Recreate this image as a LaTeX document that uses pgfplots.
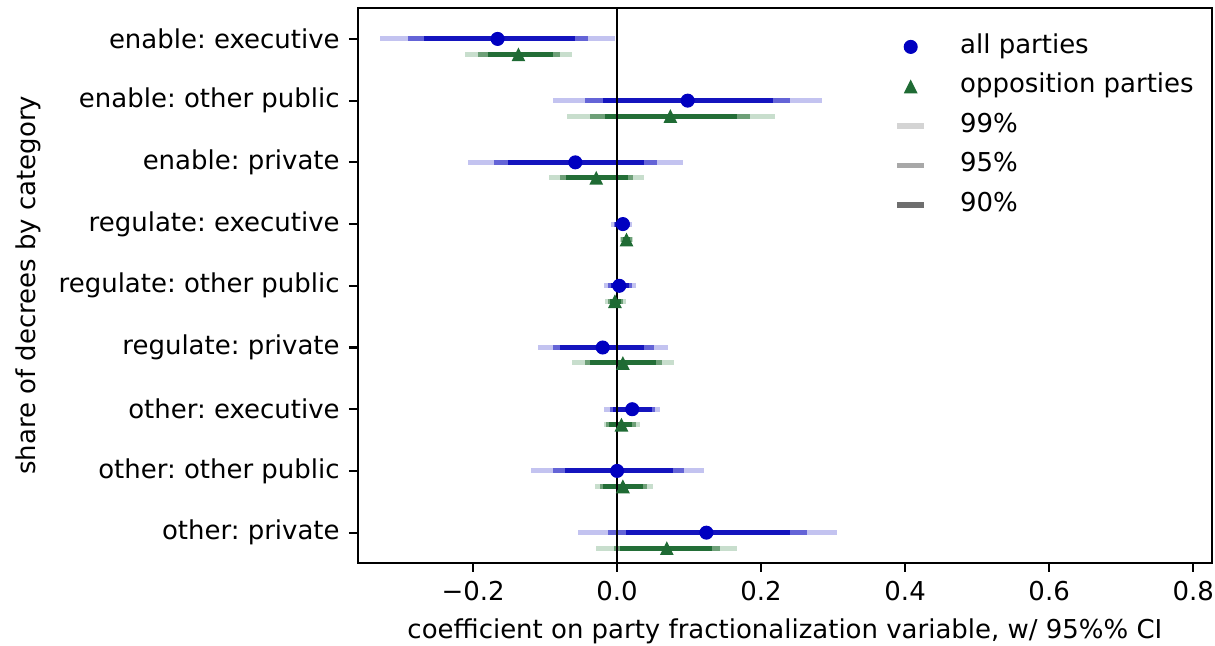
\documentclass[border=0pt]{standalone}
\usepackage{fontspec}
\setmainfont{DejaVu Sans}
\usepackage{pgfplots}
\usepackage{pgfplotstable}
\pgfplotsset{compat=1.18}
\frenchspacing

\definecolor{cblue}{RGB}{0,0,192}
\definecolor{b99}{RGB}{195,195,240}
\definecolor{b95}{RGB}{100,100,215}
\definecolor{b90}{RGB}{20,20,190}
\definecolor{cgreen}{RGB}{31,107,52}
\definecolor{g99}{RGB}{200,222,205}
\definecolor{g95}{RGB}{110,160,120}
\definecolor{g90}{RGB}{35,110,55}
\definecolor{l99}{RGB}{212,212,212}
\definecolor{l95}{RGB}{168,168,168}
\definecolor{l90}{RGB}{110,110,110}

% matplotlib-like '^' marker: base as wide as it is tall, fill only
\pgfdeclareplotmark{mtri}{%
  \pgfpathmoveto{\pgfqpoint{0pt}{\pgfplotmarksize}}%
  \pgfpathlineto{\pgfqpoint{-\pgfplotmarksize}{-\pgfplotmarksize}}%
  \pgfpathlineto{\pgfqpoint{\pgfplotmarksize}{-\pgfplotmarksize}}%
  \pgfpathclose
  \pgfusepathqfill}

% all parties
\pgfplotstableread{
pos est    lo99   hi99   lo95   hi95   lo90   hi90
0  -0.166 -0.329 -0.003 -0.290 -0.041 -0.268 -0.059
1   0.098 -0.089  0.285 -0.045  0.240 -0.020  0.217
2  -0.058 -0.207  0.092 -0.171  0.056 -0.152  0.037
3   0.008 -0.009  0.021 -0.005  0.018 -0.003  0.016
4   0.003 -0.018  0.026 -0.012  0.021 -0.008  0.017
5  -0.020 -0.110  0.071 -0.089  0.051 -0.079  0.037
6   0.021 -0.018  0.059 -0.010  0.052 -0.006  0.048
7   0.000 -0.119  0.121 -0.089  0.093 -0.073  0.077
8   0.124 -0.055  0.306 -0.013  0.264  0.012  0.240
}\allp

% opposition parties
\pgfplotstableread{
pos est    lo99   hi99   lo95   hi95   lo90   hi90
0  -0.137 -0.211 -0.063 -0.193 -0.079 -0.180 -0.089
1   0.074 -0.070  0.219 -0.037  0.185 -0.017  0.167
2  -0.029 -0.094  0.037 -0.079  0.022 -0.071  0.015
3   0.013  0.004  0.022  0.006  0.020  0.008  0.018
4  -0.003 -0.017  0.012 -0.013  0.008 -0.010  0.005
5   0.008 -0.063  0.079 -0.045  0.062 -0.038  0.054
6   0.006 -0.018  0.032 -0.015  0.026 -0.011  0.021
7   0.008 -0.031  0.050 -0.024  0.041 -0.020  0.036
8   0.069 -0.029  0.167 -0.005  0.143  0.004  0.132
}\oppp

\pgfplotsset{
  ci/.style={draw=none, no markers, forget plot,
    error bars/.cd, x dir=both, x explicit, error mark=none,
    error bar style={draw=#1, line width=1.9pt}},
  pointleg/.style={legend image code/.code={\draw[##1] plot coordinates {(5.2pt,0pt)};}},
  lineleg/.style={legend image code/.code={\draw[##1] (0pt,0pt) -- (10.4pt,0pt);}},
}

\begin{document}
\begin{tikzpicture}
\begin{axis}[
  width=328.8pt, height=213.5pt, scale only axis,
  xmin=-0.36, xmax=0.826, ymin=-0.5, ymax=8.485, y dir=reverse,
  xtick={-0.2,0,0.2,0.4,0.6,0.8},
  xticklabels={−0.2,0.0,0.2,0.4,0.6,0.8},
  ytick={0,...,8},
  yticklabels={enable: executive, enable: other public, enable: private,
    regulate: executive, regulate: other public, regulate: private,
    other: executive, other: other public, other: private},
  tick pos=left, tick align=outside, major tick length=3.5pt,
  axis line style={line width=0.8pt},
  every tick/.style={black, line width=0.8pt},
  tick label style={font=\fontsize{10}{12}\selectfont},
  label style={font=\fontsize{10}{12}\selectfont},
  xlabel={coefficient on party fractionalization variable, w/ 95\%\% CI},
  ylabel={share of decrees by category},
  legend style={draw=none, fill=none, font=\fontsize{10}{12}\selectfont,
    at={(axis description cs:1,1)}, anchor=north east,
    xshift=-3.8pt, yshift=-8.0pt,
    row sep=5.7pt, column sep=12.8pt,
    nodes={inner sep=0pt, text height=7.3pt, text depth=2.2pt}},
  legend cell align=left,
]
% 99 / 95 / 90 intervals, widest first
\addplot[ci=b99] table[x=est, y=pos,
  x error plus expr=\thisrow{hi99}-\thisrow{est},
  x error minus expr=\thisrow{est}-\thisrow{lo99}] {\allp};
\addplot[ci=g99] table[x=est, y expr=\thisrow{pos}+0.25,
  x error plus expr=\thisrow{hi99}-\thisrow{est},
  x error minus expr=\thisrow{est}-\thisrow{lo99}] {\oppp};
\addplot[ci=b95] table[x=est, y=pos,
  x error plus expr=\thisrow{hi95}-\thisrow{est},
  x error minus expr=\thisrow{est}-\thisrow{lo95}] {\allp};
\addplot[ci=g95] table[x=est, y expr=\thisrow{pos}+0.25,
  x error plus expr=\thisrow{hi95}-\thisrow{est},
  x error minus expr=\thisrow{est}-\thisrow{lo95}] {\oppp};
\addplot[ci=b90] table[x=est, y=pos,
  x error plus expr=\thisrow{hi90}-\thisrow{est},
  x error minus expr=\thisrow{est}-\thisrow{lo90}] {\allp};
\addplot[ci=g90] table[x=est, y expr=\thisrow{pos}+0.25,
  x error plus expr=\thisrow{hi90}-\thisrow{est},
  x error minus expr=\thisrow{est}-\thisrow{lo90}] {\oppp};

\addplot[forget plot, black, line width=0.6pt] coordinates {(0,-0.5) (0,8.485)};

% point estimates
\addplot[only marks, mark=*, mark size=2.5pt, cblue,
  mark options={draw=cblue, fill=cblue, line width=0.4pt}, pointleg]
  table[x=est, y=pos] {\allp};
\addlegendentry{all parties}
\addplot[only marks, mark=mtri, mark size=2.65pt, cgreen,
  mark options={fill=cgreen}, pointleg]
  table[x=est, y expr=\thisrow{pos}+0.25] {\oppp};
\addlegendentry{opposition parties}

\addlegendimage{l99, line width=2.1pt, lineleg}
\addlegendentry{99\%}
\addlegendimage{l95, line width=2.1pt, lineleg}
\addlegendentry{95\%}
\addlegendimage{l90, line width=2.1pt, lineleg}
\addlegendentry{90\%}
\end{axis}
\pgfresetboundingbox
\path[use as bounding box] ([shift={(-137.8pt,-32.1pt)}]current axis.south west)
  rectangle ([shift={(1.2pt,3.1pt)}]current axis.north east);
\end{tikzpicture}
\end{document}
